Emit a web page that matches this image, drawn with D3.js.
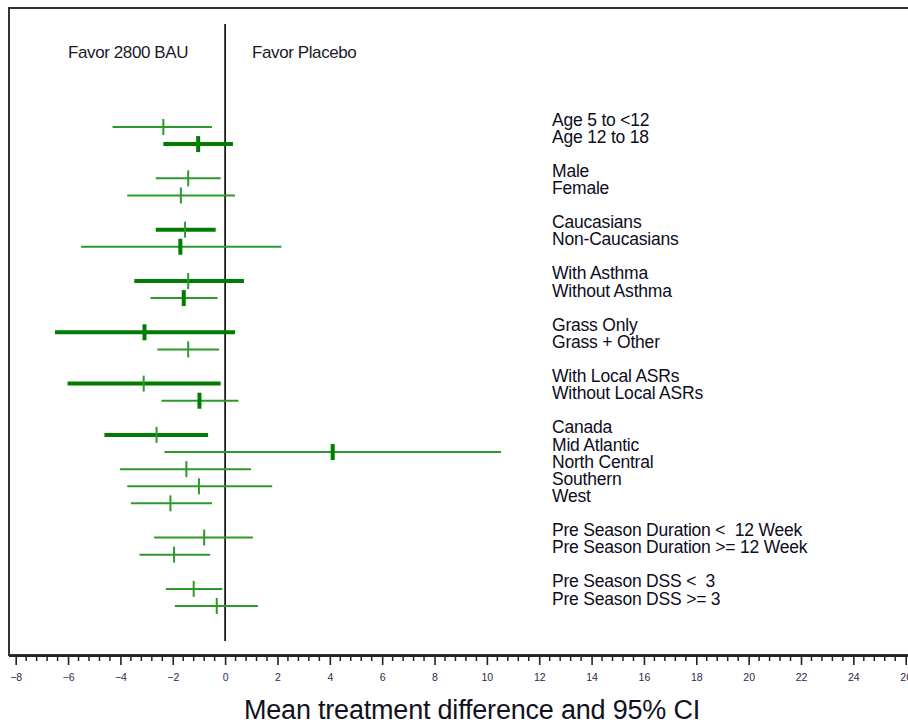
<!DOCTYPE html>
<html>
<head>
<meta charset="utf-8">
<script src="https://cdn.jsdelivr.net/npm/d3@7"></script>
<style>
  body { margin: 0; background: #fff; }
  svg { display: block; font-family: "Liberation Sans", Arial, sans-serif; }
  text { white-space: pre; }
</style>
</head>
<body>
<svg id="chart" width="908" height="725"></svg>
<script>
// ---- Data ----
const labels = [
  "Age 5 to <12", "Age 12 to 18",
  "Male", "Female",
  "Caucasians", "Non-Caucasians",
  "With Asthma", "Without Asthma",
  "Grass Only", "Grass + Other",
  "With Local ASRs", "Without Local ASRs",
  "Canada", "Mid Atlantic", "North Central", "Southern", "West",
  "Pre Season Duration <  12 Week", "Pre Season Duration >= 12 Week",
  "Pre Season DSS <  3", "Pre Season DSS >= 3"
];
// subgroup block of each row (rows in the same block are stacked without gap)
const groups = [0,0, 1,1, 2,2, 3,3, 4,4, 5,5, 6,6,6,6,6, 7,7, 8,8];
const estimates = [-2.36, -1.03, -1.41, -1.69, -1.53, -1.71, -1.41, -1.58, -3.08, -1.41,
                   -3.11, -0.98, -2.62, 4.11, -1.48, -1.0, -2.09, -0.8, -1.95, -1.2, -0.32];
const lowerCI   = [-4.3, -2.36, -2.65, -3.74, -2.65, -5.5, -3.47, -2.85, -6.5, -2.59,
                   -6.02, -2.43, -4.61, -2.32, -4.01, -3.74, -3.6, -2.71, -3.27, -2.26, -1.92];
const upperCI   = [-0.5, 0.3, -0.17, 0.38, -0.36, 2.15, 0.72, -0.29, 0.38, -0.23,
                   -0.17, 0.51, -0.65, 10.54, 0.99, 1.8, -0.5, 1.06, -0.57, -0.11, 1.25];
// rows whose CI bar is emphasised (heavier) and rows whose estimate tick is heavier
const heavyCI   = ["Age 12 to 18", "Caucasians", "With Asthma", "Grass Only", "With Local ASRs", "Canada"];
const heavyTick = ["Age 12 to 18", "Non-Caucasians", "Without Asthma", "Grass Only", "Without Local ASRs", "Mid Atlantic"];
const xTicks = d3.range(-8, 27, 2);
const axisTitle = "Mean treatment difference and 95% CI";
const leftNote = "Favor 2800 BAU";
const rightNote = "Favor Placebo";

// ---- Layout ----
const svg = d3.select("#chart");
const x = d3.scaleLinear().domain([-8, 26]).range([15.7, 905.7]);
const slots = labels.map((d, i) => i + groups[i]);
const y = d3.scaleLinear().domain([0, 28]).range([127, 606]);

const greenLight = "#2b9a2b";
const greenDark = "#007d00";

// frame
svg.append("rect")
  .attr("x", 9).attr("y", 8)
  .attr("width", 920).attr("height", 647)
  .attr("fill", "none").attr("stroke", "#333").attr("stroke-width", 2);

// zero reference line
svg.append("line")
  .attr("x1", x(0)).attr("x2", x(0))
  .attr("y1", 24).attr("y2", 641)
  .attr("stroke", "#000").attr("stroke-width", 1.6);

// notes
svg.append("text").attr("x", 68).attr("y", 58)
  .attr("font-size", 17).attr("letter-spacing", -0.4).attr("fill", "#1a1a2a").text(leftNote);
svg.append("text").attr("x", 252).attr("y", 58)
  .attr("font-size", 17).attr("letter-spacing", -0.4).attr("fill", "#1a1a2a").text(rightNote);

// rows
const rows = svg.append("g");
labels.forEach((lab, i) => {
  const yy = y(slots[i]);
  const hc = heavyCI.includes(lab);
  const ht = heavyTick.includes(lab);
  rows.append("line")
    .attr("x1", x(lowerCI[i])).attr("x2", x(upperCI[i]))
    .attr("y1", yy).attr("y2", yy)
    .attr("stroke", hc ? greenDark : greenLight)
    .attr("stroke-width", hc ? 4 : 2);
  rows.append("line")
    .attr("x1", x(estimates[i])).attr("x2", x(estimates[i]))
    .attr("y1", yy - 8).attr("y2", yy + 8)
    .attr("stroke", ht ? greenDark : greenLight)
    .attr("stroke-width", ht ? 4 : 2);
  rows.append("text")
    .attr("x", 552).attr("y", yy - 1.5)
    .attr("font-size", 17.5).attr("fill", "#0d0d1d")
    .attr("letter-spacing", -0.2)
    .text(lab);
});

// x axis
const axisY = 656;
const axisG = svg.append("g").attr("transform", `translate(0,${axisY})`);
axisG.append("line").attr("x1", 9).attr("x2", 930)
  .attr("stroke", "#222").attr("stroke-width", 2);
const minor = d3.range(-8, 26.01, 0.4).filter(v => Math.abs(v / 2 - Math.round(v / 2)) > 1e-6);
axisG.selectAll("line.minor").data(minor).join("line")
  .attr("class", "minor")
  .attr("x1", d => x(d)).attr("x2", d => x(d))
  .attr("y1", 0).attr("y2", 5)
  .attr("stroke", "#222").attr("stroke-width", 1.5);
const ax = d3.axisBottom(x).tickValues(xTicks).tickSize(9).tickPadding(9)
  .tickFormat(d3.format("d"));
const axG2 = axisG.append("g").call(ax);
axG2.select(".domain").remove();
axG2.selectAll(".tick line").attr("stroke", "#222").attr("stroke-width", 1.6);
axG2.selectAll(".tick text").attr("font-size", 10.5).attr("fill", "#2a2a4a")
  .attr("font-family", "Liberation Sans, Arial, sans-serif");

// axis title
svg.append("text")
  .attr("x", 472).attr("y", 719)
  .attr("text-anchor", "middle")
  .attr("font-size", 27).attr("letter-spacing", -0.2).attr("fill", "#111122")
  .text(axisTitle);
</script>
</body>
</html>
